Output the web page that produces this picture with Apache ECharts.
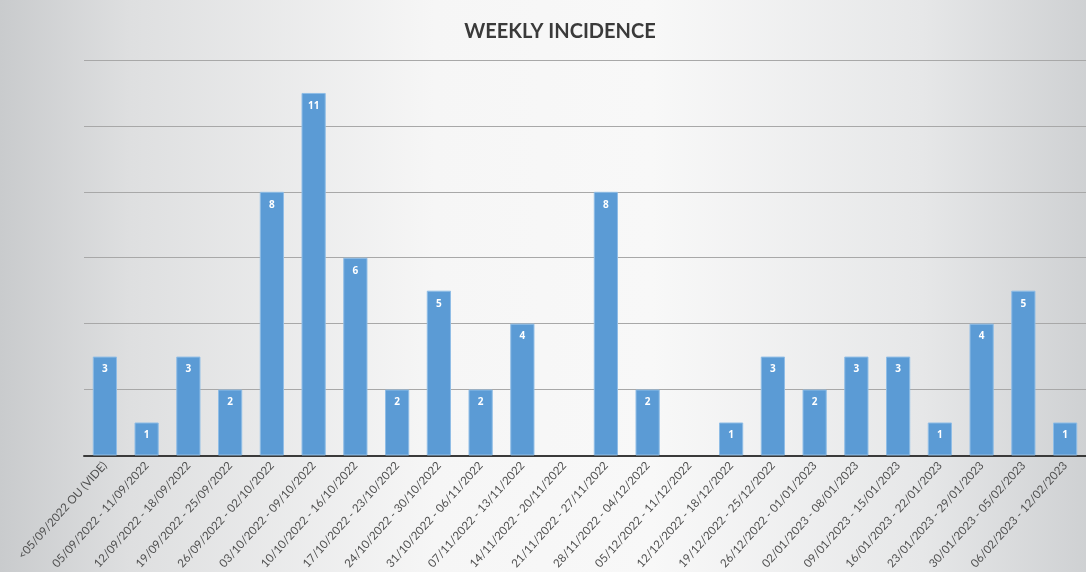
<!DOCTYPE html>
<html>
<head>
<meta charset="utf-8">
<script src="https://cdn.jsdelivr.net/npm/echarts@6/dist/echarts.min.js"></script>
<style>html,body{margin:0;padding:0;}#c{width:1086px;height:572px;}</style>
</head>
<body>
<div id="c"></div>
<script>
const categories = [
  "<05/09/2022 OU (VIDE)",
  "05/09/2022 - 11/09/2022",
  "12/09/2022 - 18/09/2022",
  "19/09/2022 - 25/09/2022",
  "26/09/2022 - 02/10/2022",
  "03/10/2022 - 09/10/2022",
  "10/10/2022 - 16/10/2022",
  "17/10/2022 - 23/10/2022",
  "24/10/2022 - 30/10/2022",
  "31/10/2022 - 06/11/2022",
  "07/11/2022 - 13/11/2022",
  "14/11/2022 - 20/11/2022",
  "21/11/2022 - 27/11/2022",
  "28/11/2022 - 04/12/2022",
  "05/12/2022 - 11/12/2022",
  "12/12/2022 - 18/12/2022",
  "19/12/2022 - 25/12/2022",
  "26/12/2022 - 01/01/2023",
  "02/01/2023 - 08/01/2023",
  "09/01/2023 - 15/01/2023",
  "16/01/2023 - 22/01/2023",
  "23/01/2023 - 29/01/2023",
  "30/01/2023 - 05/02/2023",
  "06/02/2023 - 12/02/2023"
];
const cases = [3, 1, 3, 2, 8, 11, 6, 2, 5, 2, 4, null, 8, 2, null, 1, 3, 2, 3, 3, 1, 4, 5, 1];
const titleText = "WEEKLY INCIDENCE";

const chart = echarts.init(document.getElementById('c'));
chart.setOption({
  animation: false,
  backgroundColor: {
    type: 'linear', x: 0, y: 0, x2: 1, y2: 0,
    colorStops: [
      { offset: 0, color: '#c9cbcd' },
      { offset: 0.12, color: '#dedfe0' },
      { offset: 0.4, color: '#f6f6f6' },
      { offset: 0.6, color: '#f8f8f8' },
      { offset: 0.85, color: '#e6e7e8' },
      { offset: 1, color: '#cfd1d3' }
    ]
  },
  title: {
    text: titleText,
    left: 555,
    top: 17,
    textAlign: 'center',
    textStyle: { fontFamily: 'Lato', fontWeight: 'bold', fontSize: 20, color: '#3a3a3a' }
  },
  grid: { left: 84, right: 0, top: 60, bottom: 114, containLabel: false },
  xAxis: {
    type: 'category',
    data: categories,
    axisTick: { show: false },
    axisLine: { lineStyle: { color: '#3a3a3a', width: 2 } },
    axisLabel: {
      interval: 0,
      rotate: 48,
      margin: 8,
      fontFamily: 'Lato',
      fontSize: 11.5,
      color: '#505050'
    }
  },
  yAxis: {
    type: 'value',
    min: 0,
    max: 12,
    interval: 2,
    axisLabel: { show: false },
    axisLine: { show: false },
    axisTick: { show: false },
    splitLine: { lineStyle: { color: '#a8a8a8', width: 1 } }
  },
  series: [{
    type: 'bar',
    data: cases,
    barWidth: '58%',
    itemStyle: { color: '#5b9bd5', borderColor: '#8fbde6', borderWidth: 1 },
    label: {
      show: true,
      position: 'insideTop',
      distance: 8,
      color: '#ffffff',
      fontWeight: 'bold',
      fontSize: 10,
      fontFamily: 'Open Sans'
    }
  }]
});
</script>
</body>
</html>
